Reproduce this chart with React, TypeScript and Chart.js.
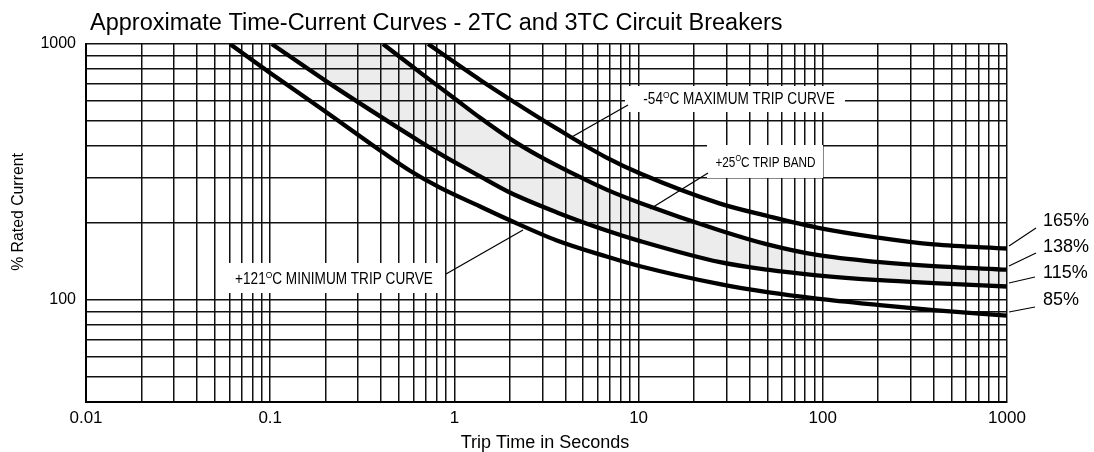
import React, { useEffect, useRef } from 'react';
import { Chart, registerables } from 'chart.js';

Chart.register(...registerables);

const FONT = '"Liberation Sans", Arial, Helvetica, sans-serif';

// ---- tick / grid definitions ----
const xLabelValues = [0.01, 0.1, 1, 10, 100, 1000];
const xTickLabels = ['0.01', '0.1', '1', '10', '100', '1000'];
const xDecades = [0.01, 0.1, 1, 10, 100];
const gridMultipliers = [1, 2, 3, 4, 5, 6, 7, 8, 9];
const yLabelValues = [100, 1000];
const yTickLabels = ['100', '1000'];
const yGridValues = [40, 50, 60, 70, 80, 90, 100, 200, 300, 400, 500, 600, 700, 800, 900, 1000];

// ---- curve data: trip time (s) vs % rated current ----
const t165 = [0.72, 1.38, 2.27, 3.6, 6.7, 10.2, 27.7, 50, 93, 204, 400, 1000];
const i165 = [1000, 724, 574, 467, 360, 312, 238, 213, 192, 175, 165, 159];

const t138 = [0.41, 0.7, 0.99, 1.38, 2.0, 2.92, 4.24, 6.7, 10.2, 27.7, 50, 93, 204, 400, 1000];
const i138 = [1000, 744, 617, 515, 427, 363, 316, 270, 239.5, 187, 165, 150, 140.6, 135.6, 131.4];

const t115 = [0.102, 0.2, 0.39, 0.65, 0.99, 1.38, 2.0, 3.6, 6.7, 10.2, 27.7, 50, 93, 204, 400, 1000];
const i115 = [1000, 718, 525, 416, 347, 304, 263, 220, 187, 170, 140.6, 131.4, 125, 119.6, 116.5, 113];

const t85 = [0.0605, 0.1, 0.2, 0.41, 0.574, 0.835, 1.38, 2.0, 3.6, 6.7, 10.2, 27.7, 50, 93, 204, 400, 1000];
const i85 = [1000, 771, 544, 377, 320, 275, 232, 205, 171, 148, 135.6, 115.4, 107.4, 101.3, 95.6, 91.4, 86.9];

const curveLabels = ['165%', '138%', '115%', '85%'];

const titleText = 'Approximate Time-Current Curves - 2TC and 3TC Circuit Breakers';
const xTitleText = 'Trip Time in Seconds';
const yTitleText = '% Rated Current';

const toPoints = (t: number[], v: number[]) => t.map((x, k) => ({ x, y: v[k] }));

const labelFor = (v: number, values: number[], labels: string[]) => {
  const k = values.findIndex((w) => Math.abs(w - v) < w * 1e-6);
  return k >= 0 ? labels[k] : '';
};

const xGridValues: number[] = [];
xDecades.forEach((d) => gridMultipliers.forEach((m) => xGridValues.push(Number((m * d).toPrecision(6)))));
xGridValues.push(1000);

type Part = { text: string; sup?: boolean };

function drawRich(
  ctx: CanvasRenderingContext2D,
  parts: Part[],
  cx: number,
  cy: number,
  size: number,
  sx: number,
  rot = 0
) {
  ctx.save();
  ctx.fillStyle = '#000';
  ctx.textAlign = 'left';
  ctx.textBaseline = 'alphabetic';
  const supSize = size * 0.62;
  const widths = parts.map((p) => {
    ctx.font = `${p.sup ? supSize : size}px ${FONT}`;
    return ctx.measureText(p.text).width;
  });
  const total = widths.reduce((a, b) => a + b, 0);
  ctx.translate(cx, cy);
  if (rot) ctx.rotate(rot);
  ctx.scale(sx, 1);
  let x = -total / 2;
  const base = size * 0.358;
  parts.forEach((p, k) => {
    ctx.font = `${p.sup ? supSize : size}px ${FONT}`;
    ctx.fillText(p.text, x, p.sup ? base - size * 0.36 : base);
    x += widths[k];
  });
  ctx.restore();
}

function line(ctx: CanvasRenderingContext2D, x1: number, y1: number, x2: number, y2: number, w = 1.3) {
  ctx.save();
  ctx.strokeStyle = '#000';
  ctx.lineWidth = w;
  ctx.beginPath();
  ctx.moveTo(x1, y1);
  ctx.lineTo(x2, y2);
  ctx.stroke();
  ctx.restore();
}

const overlay = {
  id: 'overlay',
  afterDraw(chart: any) {
    const ctx: CanvasRenderingContext2D = chart.ctx;
    // title
    ctx.save();
    ctx.fillStyle = '#000';
    ctx.font = `23.5px ${FONT}`;
    ctx.textAlign = 'left';
    ctx.textBaseline = 'alphabetic';
    ctx.fillText(titleText, 90, 30);
    ctx.restore();

    // axis titles
    drawRich(ctx, [{ text: xTitleText }], 545, 442, 18, 1);
    drawRich(ctx, [{ text: yTitleText }], 17, 212, 17, 0.93, -Math.PI / 2);

    // annotation boxes
    const boxes = [
      { r: [625, 86, 845, 112], parts: [{ text: '-54' }, { text: 'O', sup: true }, { text: 'C MAXIMUM TRIP CURVE' }], c: [739, 98], s: 16, sx: 0.85, lead: [628, 105, 570, 138] },
      { r: [707, 145, 823, 178], parts: [{ text: '+25' }, { text: 'O', sup: true }, { text: 'C TRIP BAND' }], c: [765.5, 161.5], s: 14, sx: 0.84, lead: [708, 173, 650, 209] },
      { r: [226, 263, 442, 293], parts: [{ text: '+121' }, { text: 'O', sup: true }, { text: 'C MINIMUM TRIP CURVE' }], c: [334, 278], s: 16, sx: 0.85, lead: [446, 274, 523, 230] },
    ];
    boxes.forEach((b) => {
      ctx.save();
      ctx.fillStyle = '#fff';
      ctx.fillRect(b.r[0], b.r[1], b.r[2] - b.r[0], b.r[3] - b.r[1]);
      ctx.restore();
      drawRich(ctx, b.parts as Part[], b.c[0], b.c[1], b.s, b.sx);
      line(ctx, b.lead[0], b.lead[1], b.lead[2], b.lead[3]);
    });

    // right-hand curve labels
    const labelY = [221, 247, 273, 300];
    const leaders = [
      [1009, 246, 1036, 228],
      [1009, 266, 1036, 253],
      [1009, 283, 1035, 277],
      [1009, 312, 1035, 307],
    ];
    ctx.save();
    ctx.fillStyle = '#000';
    ctx.font = `18px ${FONT}`;
    ctx.textAlign = 'left';
    ctx.textBaseline = 'middle';
    curveLabels.forEach((lab, k) => ctx.fillText(lab, 1043, labelY[k]));
    ctx.restore();
    leaders.forEach((l) => line(ctx, l[0], l[1], l[2], l[3], 1.2));
  },
};

export default function App() {
  const ref = useRef<HTMLCanvasElement>(null);
  useEffect(() => {
    const canvas = ref.current!;
    const lineBase = {
      borderColor: '#000',
      borderWidth: 4.3,
      pointRadius: 0,
      cubicInterpolationMode: 'monotone' as const,
      clip: 0,
    };
    const chart = new Chart(canvas, {
      type: 'line',
      data: {
        datasets: [
          { ...lineBase, label: curveLabels[0], data: toPoints(t165, i165), fill: false },
          { ...lineBase, label: curveLabels[1], data: toPoints(t138, i138), fill: 'end', backgroundColor: '#ffffff' },
          { ...lineBase, label: curveLabels[2], data: toPoints(t115, i115), fill: 'end', backgroundColor: '#ececec' },
          { ...lineBase, label: curveLabels[3], data: toPoints(t85, i85), fill: false },
        ],
      },
      options: {
        animation: false,
        responsive: true,
        maintainAspectRatio: false,
        layout: { padding: { left: 0, right: 87, top: 44, bottom: 0 } },
        plugins: {
          legend: { display: false },
          tooltip: { enabled: false },
          title: { display: false },
          filler: { drawTime: 'beforeDraw' },
        } as any,
        scales: {
          x: {
            type: 'logarithmic',
            min: 0.01,
            max: 1000,
            afterBuildTicks: (s: any) => {
              s.ticks = xGridValues.map((v) => ({ value: v }));
            },
            afterFit: (s: any) => {
              s.height = 50;
            },
            grid: { color: '#111', lineWidth: 1.5, drawTicks: false },
            border: { color: '#000', width: 2 },
            ticks: {
              autoSkip: false,
              maxRotation: 0,
              minRotation: 0,
              padding: 6,
              color: '#000',
              font: { family: FONT, size: 17 },
              callback: (v: any) => labelFor(Number(v), xLabelValues, xTickLabels),
            },
          },
          y: {
            type: 'logarithmic',
            min: 40,
            max: 1000,
            afterBuildTicks: (s: any) => {
              s.ticks = yGridValues.map((v) => ({ value: v }));
            },
            afterFit: (s: any) => {
              s.width = 86;
            },
            grid: { color: '#111', lineWidth: 1.5, drawTicks: false },
            border: { color: '#000', width: 2 },
            ticks: {
              autoSkip: false,
              padding: 10,
              color: '#000',
              font: { family: FONT, size: 16 },
              callback: (v: any) => labelFor(Number(v), yLabelValues, yTickLabels),
            },
          },
        },
      } as any,
      plugins: [overlay],
    });
    return () => chart.destroy();
  }, []);
  return (
    <div style={{ position: 'fixed', left: 0, top: 0, width: 1094, height: 452, background: '#fff' }}>
      <canvas ref={ref} />
    </div>
  );
}
